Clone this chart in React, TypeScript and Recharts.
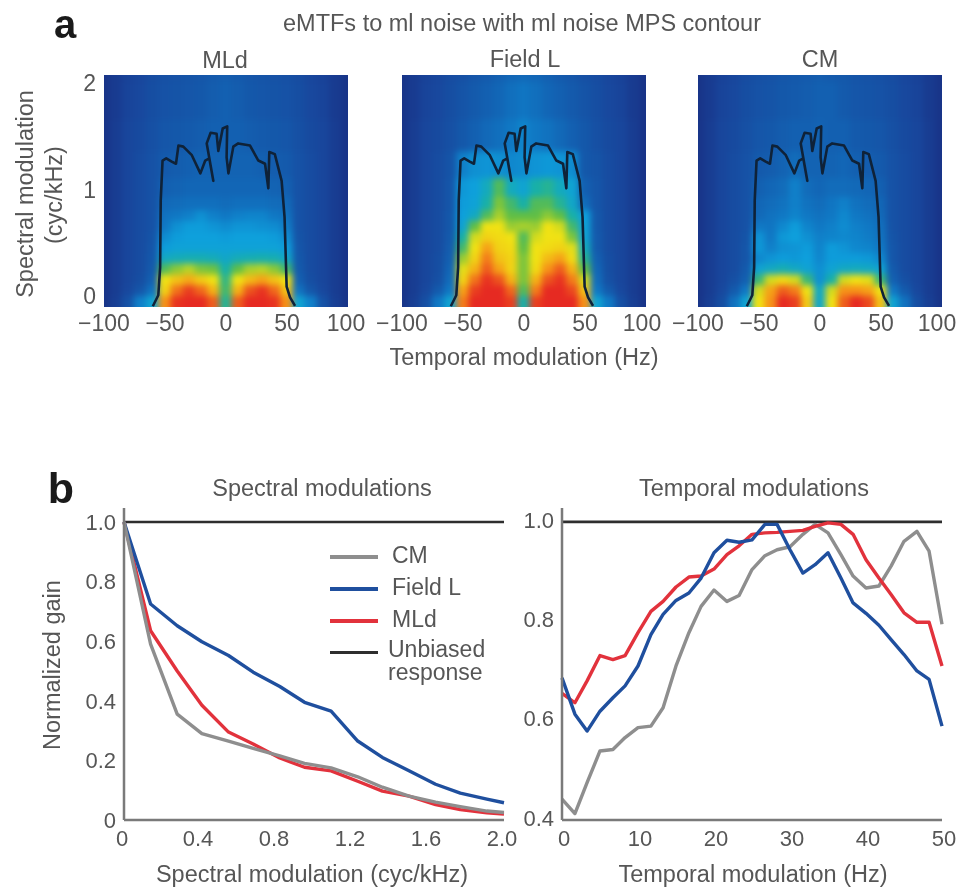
import React from 'react';
import { Legend, Line, LineChart, Scatter, ScatterChart, XAxis, YAxis } from 'recharts';

// panel a: colour levels (0 navy .. 9 red), one row per HEAT_Y
const HEAT_X = [-110, -100, -90, -80, -70, -60, -50, -40, -30, -20, -10, 0, 10, 20, 30, 40, 50, 60, 70, 80, 90, 100, 110];
const HEAT_Y = [2.2, 1.8, 1.5, 1.2, 1.0, 0.85, 0.75, 0.65, 0.55, 0.45, 0.35, 0.25, 0.15, 0.05, -0.05, -0.15];

const MLD_LEVELS = [
  [0, 0, .4, .8, 1, 1.3, 1.5, 1.6, 1.7, 1.8, 2, 2.1, 2, 1.8, 1.7, 1.6, 1.5, 1.3, 1, .8, .4, 0, 0],
  [0, 0, .4, .9, 1.1, 1.4, 1.6, 1.7, 1.8, 1.9, 2.1, 2.2, 2.1, 1.9, 1.8, 1.7, 1.6, 1.4, 1.1, .9, .4, 0, 0],
  [0, 0, .5, 1, 1.2, 1.5, 1.8, 1.9, 2, 2.1, 2.2, 2.2, 2.2, 2.1, 2, 1.9, 1.8, 1.5, 1.2, 1, .5, 0, 0],
  [0, 0, .5, 1, 1.3, 1.6, 2, 2.1, 2.2, 2.3, 2.3, 2.3, 2.3, 2.3, 2.2, 2.1, 2, 1.6, 1.3, 1, .5, 0, 0],
  [0, 0, .5, 1, 1.3, 1.6, 2.2, 2.3, 2.4, 2.4, 2.4, 2.4, 2.4, 2.4, 2.4, 2.3, 2.2, 1.6, 1.3, 1, .5, 0, 0],
  [0, 0, .5, 1, 1.3, 1.6, 2.5, 2.6, 2.7, 2.7, 2.7, 2.6, 2.7, 2.7, 2.7, 2.6, 2.5, 1.6, 1.3, 1, .5, 0, 0],
  [0, 0, .5, 1, 1.3, 1.6, 2.8, 3, 3.2, 3.6, 3.2, 3, 3.2, 3.3, 3.3, 3, 2.8, 1.6, 1.3, 1, .5, 0, 0],
  [0, 0, .5, 1, 1.3, 1.6, 3, 3.6, 3.9, 3.9, 3.7, 3.5, 3.7, 3.7, 3.6, 3.5, 3.1, 1.6, 1.3, 1, .5, 0, 0],
  [0, 0, .5, 1, 1.3, 1.7, 3.5, 3.9, 4, 4, 4, 3.9, 4, 4, 4, 3.9, 3.5, 1.7, 1.3, 1, .5, 0, 0],
  [0, 0, .5, 1, 1.3, 1.8, 3.9, 4.1, 4.1, 4.1, 4.1, 4.1, 4.1, 4.1, 4.1, 4.1, 3.9, 1.8, 1.3, 1, .5, 0, 0],
  [0, 0, .5, 1, 1.3, 1.9, 4.5, 4.7, 4.8, 4.8, 4.7, 4.4, 4.7, 4.8, 4.9, 4.8, 4.4, 1.9, 1.3, 1, .5, 0, 0],
  [0, 0, .5, 1, 1.3, 2, 5.8, 6.3, 6.6, 6.2, 6.1, 5, 6, 6.5, 6.6, 6.3, 5.6, 2, 1.3, 1, .5, 0, 0],
  [0, 0, .5, 1, 1.4, 2.2, 7, 7.4, 7.7, 7.3, 7, 5.4, 7, 7.5, 7.8, 7.4, 7, 2.2, 1.4, 1, .5, 0, 0],
  [0, 0, .5, 1.1, 1.8, 2.8, 7.2, 8.3, 8.8, 8.4, 7.6, 5.6, 7.6, 8.6, 8.9, 8.4, 7.4, 2.8, 1.8, 1.1, .5, 0, 0],
  [0, 0, .6, 1.6, 3.2, 4.2, 8, 8.9, 9, 9, 8.5, 5.2, 8.5, 9, 9, 8.9, 8, 4.2, 3.2, 1.6, .6, 0, 0],
  [0, 0, .6, 1.6, 3.2, 4.2, 8, 8.9, 9, 9, 8.5, 5.2, 8.5, 9, 9, 8.9, 8, 4.2, 3.2, 1.6, .6, 0, 0],
];

const FIELD_L_LEVELS = [
  [0, 0, .4, .8, 1, 1.3, 1.5, 1.8, 2, 2.2, 2.4, 2.5, 2.4, 2.2, 2, 1.8, 1.5, 1.3, 1, .8, .4, 0, 0],
  [0, 0, .4, .9, 1.1, 1.4, 1.7, 2, 2.2, 2.4, 2.7, 2.9, 2.7, 2.4, 2.2, 2, 1.7, 1.4, 1.1, .9, .4, 0, 0],
  [0, 0, .5, 1, 1.2, 1.5, 1.9, 2.2, 2.5, 2.7, 3, 3.3, 3, 2.8, 2.5, 2.2, 1.9, 1.5, 1.2, 1, .5, 0, 0],
  [0, 0, .5, 1, 1.3, 1.7, 3.2, 3.6, 3.7, 3.6, 3.4, 3.5, 3.7, 3.8, 3.7, 3.5, 1.9, 1.7, 1.3, 1, .5, 0, 0],
  [0, 0, .5, 1, 1.3, 1.8, 3.8, 4, 4.6, 5.8, 4.6, 4.2, 5, 5.2, 4.6, 4.2, 2.2, 1.8, 1.3, 1, .5, 0, 0],
  [0, 0, .5, 1, 1.3, 1.8, 3.9, 4.1, 5, 6.2, 5.6, 5, 5.8, 5.8, 5.2, 4.4, 2.6, 1.8, 1.3, 1, .5, 0, 0],
  [0, 0, .5, 1, 1.3, 1.9, 4, 4.5, 5.8, 6.5, 6, 6, 6, 6.3, 6, 5, 4, 1.9, 1.3, 1, .5, 0, 0],
  [0, 0, .5, 1, 1.3, 1.9, 4.2, 6, 7, 7, 6.4, 6.5, 6.4, 7, 6.8, 5.6, 4.1, 1.9, 1.3, 1, .5, 0, 0],
  [0, 0, .5, 1, 1.3, 2, 5, 6.8, 7.2, 7.1, 7, 5.8, 6.8, 7, 7, 6.2, 4.2, 2, 1.3, 1, .5, 0, 0],
  [0, 0, .5, 1, 1.3, 2.1, 5.6, 7, 7.8, 7.2, 7.1, 6, 7, 7.1, 7.2, 6.9, 4.6, 2, 1.3, 1, .5, 0, 0],
  [0, 0, .5, 1, 1.4, 2.2, 6.4, 7.2, 8.2, 7.4, 7.2, 6.2, 7, 7.5, 7.8, 7.1, 5.2, 2.2, 1.4, 1, .5, 0, 0],
  [0, 0, .5, 1, 1.4, 2.4, 6.9, 7.6, 8.5, 7.8, 7.2, 6.2, 7.1, 8, 8.5, 7.6, 6, 2.4, 1.4, 1, .5, 0, 0],
  [0, 0, .5, 1, 1.5, 2.6, 7.2, 8.3, 8.9, 8.6, 7.6, 6.2, 7.6, 8.6, 8.9, 8.2, 6.8, 2.6, 1.5, 1, .5, 0, 0],
  [0, 0, .5, 1.1, 2, 3, 7.8, 8.8, 9, 9, 8.4, 5.8, 8.2, 9, 9, 8.7, 7.4, 3, 2, 1.1, .5, 0, 0],
  [0, 0, .6, 1.5, 3, 4.2, 8.2, 9, 9, 9, 8.8, 5, 8.8, 9, 9, 9, 8, 4.2, 3, 1.5, .6, 0, 0],
  [0, 0, .6, 1.5, 3, 4.2, 8.2, 9, 9, 9, 8.8, 5, 8.8, 9, 9, 9, 8, 4.2, 3, 1.5, .6, 0, 0],
];

const CM_LEVELS = [
  [0, 0, .4, .8, 1, 1.3, 1.5, 1.6, 1.8, 1.9, 2, 2.1, 2, 1.9, 1.7, 1.6, 1.5, 1.3, 1, .8, .4, 0, 0],
  [0, 0, .4, .9, 1.1, 1.4, 1.6, 1.7, 1.9, 2, 2.1, 2.2, 2.2, 2, 1.8, 1.7, 1.6, 1.4, 1.1, .9, .4, 0, 0],
  [0, 0, .5, 1, 1.2, 1.5, 1.8, 1.9, 2.1, 2.2, 2.2, 2.3, 2.2, 2.2, 2, 1.9, 1.8, 1.5, 1.2, 1, .5, 0, 0],
  [0, 0, .5, 1, 1.3, 1.6, 2, 2.1, 2.3, 2.6, 2.3, 2.3, 2.3, 2.4, 2.2, 2.1, 2, 1.6, 1.3, 1, .5, 0, 0],
  [0, 0, .5, 1, 1.3, 1.6, 2.2, 2.4, 2.6, 3.2, 2.6, 2.4, 2.6, 2.6, 2.5, 2.4, 2.2, 1.6, 1.3, 1, .5, 0, 0],
  [0, 0, .5, 1, 1.3, 1.6, 2.4, 2.6, 2.8, 3.2, 2.8, 2.6, 2.9, 3.2, 2.8, 2.6, 2.4, 1.6, 1.3, 1, .5, 0, 0],
  [0, 0, .5, 1, 1.3, 1.6, 2.5, 2.8, 3, 3.3, 3, 2.8, 3, 3.4, 3, 2.8, 2.5, 1.6, 1.3, 1, .5, 0, 0],
  [0, 0, .5, 1, 1.3, 1.6, 3, 2.9, 3.4, 3.9, 3.3, 3, 3.2, 3.5, 3.2, 3, 2.7, 1.6, 1.3, 1, .5, 0, 0],
  [0, 0, .5, 1, 1.3, 1.7, 3.7, 3, 3.8, 4, 3.6, 3.2, 3.3, 3.4, 3.3, 3.1, 2.8, 1.7, 1.3, 1, .5, 0, 0],
  [0, 0, .5, 1, 1.3, 1.8, 3.8, 3.2, 3.6, 3.7, 3.9, 3.3, 3.9, 3.7, 3.4, 3.3, 3, 1.8, 1.3, 1, .5, 0, 0],
  [0, 0, .5, 1, 1.3, 1.8, 3.4, 3.7, 3.9, 3.8, 4, 3.4, 3.9, 3.9, 3.9, 3.8, 3.4, 1.8, 1.3, 1, .5, 0, 0],
  [0, 0, .5, 1, 1.3, 2, 4.2, 4.5, 4.8, 4.5, 4.2, 3.6, 4.2, 4.5, 4.6, 4.5, 4.2, 2, 1.3, 1, .5, 0, 0],
  [0, 0, .5, 1, 1.5, 2.2, 5.5, 6.8, 7.1, 6.8, 5.5, 3.6, 5, 6.8, 7, 6.9, 5.5, 2.2, 1.5, 1, .5, 0, 0],
  [0, 0, .5, 1.1, 2, 3, 6.8, 7.8, 8.5, 8.2, 7, 4.5, 6.8, 8, 8, 7.8, 7, 3, 2, 1.1, .5, 0, 0],
  [0, 0, .6, 1.4, 2.8, 4.2, 7, 8, 9, 8.8, 7.3, 4.4, 7, 8.5, 9, 8.7, 7.4, 4.2, 2.8, 1.4, .6, 0, 0],
  [0, 0, .6, 1.4, 2.8, 4.2, 7, 8, 9, 8.8, 7.3, 4.4, 7, 8.5, 9, 8.7, 7.4, 4.2, 2.8, 1.4, .6, 0, 0],
];

// ml noise MPS contour, traced in reading order
const CONTOUR_X = [-60, -55.5, -54, -53.5, -52, -49, -44.5, -41, -39, -35, -28, -21, -17, -13.7, -10.4, -15.8, -12.6, -7.7, -6.3, -2.7, 1, .5, 2, 6, 10, 19.7, 26.5, 32, 34.7, 35.5, 40, 45.6, 48, 49.7, 52.5, 56.6];
const CONTOUR_Y = [-.093, .01, .27, .9, 1.27, 1.29, 1.26, 1.24, 1.41, 1.4, 1.32, 1.15, 1.27, 1.29, 1.08, 1.43, 1.53, 1.52, 1.36, 1.57, 1.59, 1.3, 1.15, 1.4, 1.43, 1.41, 1.27, 1.24, 1.01, 1.35, 1.33, 1.08, .74, .09, -.01, -.09];

const HEAT_TICKS_X = [-100, -50, 0, 50, 100];
const HEAT_TICKS_Y = [0, 1, 2];

// panel b, spectral
const SPECTRAL_X = [0, .14, .28, .41, .55, .68, .82, .95, 1.09, 1.23, 1.36, 1.5, 1.64, 1.77, 1.91, 2];
const SPECTRAL_CM = [1, .59, .355, .29, .265, .24, .215, .19, .175, .145, .11, .08, .06, .045, .03, .025];
const SPECTRAL_FIELD_L = [1, .725, .652, .598, .552, .496, .448, .395, .365, .265, .21, .165, .12, .09, .07, .058];
const SPECTRAL_MLD = [1, .635, .5, .385, .295, .255, .208, .177, .165, .13, .097, .08, .052, .035, .024, .02];
const SPECTRAL_TICKS_X = [0, .4, .8, 1.2, 1.6, 2];
const SPECTRAL_TICKS_Y = [0, .2, .4, .6, .8, 1];

// panel b, temporal
const TEMPORAL_X = [0, 1.7, 3.3, 5, 6.7, 8.3, 10, 11.7, 13.3, 15, 16.7, 18.3, 20, 21.7, 23.3, 25, 26.7, 28.3, 30, 31.7, 33.3, 35, 36.7, 38.3, 40, 41.7, 43.3, 45, 46.7, 48.3, 50];
const TEMPORAL_CM = [.442, .413, .475, .539, .542, .566, .586, .589, .626, .71, .777, .83, .863, .84, .852, .904, .932, .944, .95, .975, .995, .978, .934, .891, .867, .871, .911, .961, .981, .941, .794];
const TEMPORAL_FIELD_L = [.686, .613, .579, .619, .646, .67, .71, .773, .814, .842, .857, .887, .938, .963, .959, .964, .995, .995, .944, .897, .914, .938, .887, .837, .816, .792, .763, .733, .7, .683, .589];
const TEMPORAL_MLD = [.655, .636, .68, .731, .723, .731, .777, .82, .84, .869, .889, .891, .905, .934, .952, .975, .978, .979, .981, .983, .991, .998, .995, .975, .924, .887, .854, .817, .798, .798, .71];
const TEMPORAL_TICKS_X = [0, 10, 20, 30, 40, 50];
const TEMPORAL_TICKS_Y = [.4, .6, .8, 1];
const UNBIASED = 1;

const FONT = '"Liberation Sans", Arial, sans-serif';
const TEXT = '#565656';
const AXIS = '#7a7a7a';
const GREY = '#8e8e8e';
const BLUE = '#1f4f9e';
const RED = '#e2323c';
const BLACK = '#2e2e2e';

const LEVEL_COLORS = [
  [24, 52, 136], [24, 70, 156], [20, 90, 172], [16, 120, 196], [14, 160, 220],
  [24, 176, 168], [96, 190, 70], [240, 226, 20], [246, 146, 24], [230, 42, 34],
];

function levelColor(level: number) {
  const lo = Math.min(Math.floor(level), 8);
  const t = level - lo;
  const c = LEVEL_COLORS[lo].map((v, i) => Math.round(v + (LEVEL_COLORS[lo + 1][i] - v) * t));
  return `rgb(${c[0]},${c[1]},${c[2]})`;
}

const PLOT_W = 244;
const PLOT_H = 232;
const Y_DOMAIN = [-0.1, 2.07];
const PX_X = PLOT_W / 200;
const PX_Y = PLOT_H / (Y_DOMAIN[1] - Y_DOMAIN[0]);

// row edges are halfway to the neighbouring rows
function rowEdges(i: number) {
  const y = HEAT_Y[i];
  const up = i === 0 ? y + 0.3 : (HEAT_Y[i - 1] + y) / 2;
  const down = i === HEAT_Y.length - 1 ? y - 0.1 : (HEAT_Y[i + 1] + y) / 2;
  return { up: up - y, down: y - down };
}

function HeatCell(props: any) {
  const { cx, cy, payload } = props;
  const { up, down } = rowEdges(payload.row);
  return (
    <rect
      x={cx - 5.5 * PX_X}
      y={cy - up * PX_Y - 0.5}
      width={11 * PX_X}
      height={(up + down) * PX_Y + 1}
      fill={levelColor(payload.level)}
    />
  );
}

const contourTable = CONTOUR_X.map((x, i) => ({ x, y: CONTOUR_Y[i] }));

// the end labels sit a little inside the image edge in the original
function heatTick(nudge: number) {
  return (p: any) => (
    <text
      x={p.x + (p.payload.value === 100 ? nudge : 0)}
      y={p.y + 16}
      textAnchor="middle"
      fontSize={23}
      fontFamily={FONT}
      fill={TEXT}
    >
      {String(p.payload.value).replace('-', '\u2212')}
    </text>
  );
}

function HeatPanel({ left, top, levels, showY, nudge }: { left: number; top: number; levels: number[][]; showY?: boolean; nudge: number }) {
  const cells = levels.flatMap((row, r) => row.map((level, c) => ({ x: HEAT_X[c], y: HEAT_Y[r], level, row: r })));
  return (
    <div style={{ position: 'absolute', left: left - 60, top: top - 10 }}>
      <ScatterChart
        width={PLOT_W + 100}
        height={PLOT_H + 50}
        margin={{ left: showY ? 0 : 60, right: 40, top: 10, bottom: 0 }}
      >
        <XAxis
          type="number"
          dataKey="x"
          domain={[-100, 100]}
          allowDataOverflow
          ticks={HEAT_TICKS_X}
          interval={0}
          axisLine={false}
          tickLine={false}
          height={40}
          tick={heatTick(nudge)}
        />
        <YAxis
          type="number"
          dataKey="y"
          domain={Y_DOMAIN}
          allowDataOverflow
          ticks={HEAT_TICKS_Y}
          interval={0}
          hide={!showY}
          axisLine={false}
          tickLine={false}
          width={60}
          tickMargin={2}
          tick={{ fontSize: 23, fill: TEXT, fontFamily: FONT }}
        />
        <Scatter className="heat-cells" data={cells} shape={HeatCell} isAnimationActive={false} />
        <Scatter
          data={contourTable}
          line={{ stroke: '#0f2238', strokeWidth: 2.6, strokeLinejoin: 'round' }}
          shape={() => <g />}
          isAnimationActive={false}
        />
      </ScatterChart>
    </div>
  );
}

function gainLegend(props: any) {
  return (
    <div style={{ fontFamily: FONT, fontSize: 23, color: TEXT }}>
      {props.payload.map((entry: any) => (
        <div key={entry.value} style={{ display: 'flex', alignItems: 'flex-start', height: 32 }}>
          <span
            style={{
              width: 48,
              height: entry.color === BLACK ? 2.5 : 3.5,
              marginTop: 14,
              marginRight: entry.color === BLACK ? 10 : 14,
              background: entry.color,
              flex: 'none',
            }}
          />
          <span style={{ lineHeight: '23px', marginTop: entry.color === BLACK ? 1 : 3 }}>{entry.value}</span>
        </div>
      ))}
    </div>
  );
}

const spectralTable = SPECTRAL_X.map((x, i) => ({
  x,
  CM: SPECTRAL_CM[i],
  'Field L': SPECTRAL_FIELD_L[i],
  MLd: SPECTRAL_MLD[i],
  'Unbiased response': UNBIASED,
}));

const temporalTable = TEMPORAL_X.map((x, i) => ({
  x,
  CM: TEMPORAL_CM[i],
  'Field L': TEMPORAL_FIELD_L[i],
  MLd: TEMPORAL_MLD[i],
  'Unbiased response': UNBIASED,
}));

const gainTick = { fontSize: 22, fill: TEXT, fontFamily: FONT };
const axisStroke = { stroke: AXIS, strokeWidth: 2.5 };
const lineStyle = { dot: false, isAnimationActive: false, strokeWidth: 3.4, strokeLinejoin: 'round' as const };

function Caption({ x, y, size = 23.5, angle = 0, bold, children }: { x: number; y: number; size?: number; angle?: number; bold?: boolean; children: React.ReactNode }) {
  return (
    <div
      style={{
        position: 'absolute',
        left: x,
        top: y,
        transform: `translate(-50%, -50%) rotate(${angle}deg)`,
        fontFamily: FONT,
        fontSize: size,
        lineHeight: 1,
        fontWeight: bold ? 700 : 400,
        color: bold ? '#1a1a1a' : TEXT,
        whiteSpace: 'nowrap',
      }}
    >
      {children}
    </div>
  );
}

export default function App() {
  return (
    <div style={{ position: 'absolute', left: 0, top: 0, width: 958, height: 889, background: '#fff', overflow: 'hidden', filter: 'blur(0.5px)' }}>
      <style>{'.heat-cells { filter: blur(3.2px); }'}</style>

      <Caption x={65} y={24} size={40} bold>a</Caption>
      <Caption x={522} y={24}>eMTFs to ml noise with ml noise MPS contour</Caption>
      <Caption x={225} y={61}>MLd</Caption>
      <Caption x={525} y={60}>Field L</Caption>
      <Caption x={820} y={60}>CM</Caption>
      <Caption x={26} y={194} angle={-90}>Spectral modulation</Caption>
      <Caption x={55} y={195} angle={-90}>(cyc/kHz)</Caption>
      <Caption x={524} y={358}>Temporal modulation (Hz)</Caption>

      <HeatPanel left={104} top={75} levels={MLD_LEVELS} showY nudge={-2} />
      <HeatPanel left={402} top={75} levels={FIELD_L_LEVELS} nudge={-4} />
      <HeatPanel left={698} top={75} levels={CM_LEVELS} nudge={-5} />

      <Caption x={61} y={488} size={43} bold>b</Caption>
      <Caption x={322} y={489}>Spectral modulations</Caption>
      <Caption x={754} y={489}>Temporal modulations</Caption>
      <Caption x={53} y={665} angle={-90}>Normalized gain</Caption>
      <Caption x={312} y={875}>Spectral modulation (cyc/kHz)</Caption>
      <Caption x={753} y={875}>Temporal modulation (Hz)</Caption>

      <div style={{ position: 'absolute', left: 64, top: 498 }}>
        <LineChart width={480} height={372} data={spectralTable} margin={{ left: 0, right: 40, top: 10, bottom: 0 }}>
          <XAxis
            type="number"
            dataKey="x"
            domain={[0, 2]}
            ticks={SPECTRAL_TICKS_X}
            interval={0}
            tickFormatter={(v: number) => (v === 0 ? '0' : v.toFixed(1))}
            axisLine={axisStroke}
            tickLine={false}
            height={50}
            tickMargin={4}
            tick={{ ...gainTick, dx: -2 }}
          />
          <YAxis
            type="number"
            domain={[0, 1.047]}
            ticks={SPECTRAL_TICKS_Y}
            interval={0}
            tickFormatter={(v: number) => (v === 0 ? '0' : v.toFixed(1))}
            axisLine={axisStroke}
            tickLine={false}
            width={60}
            tickMargin={2}
            tick={gainTick}
          />
          <Legend
            layout="vertical"
            align="center"
            verticalAlign="middle"
            content={gainLegend}
            wrapperStyle={{ left: 266, top: 43, width: 170 }}
          />
          <Line dataKey="Unbiased response" stroke={BLACK} {...lineStyle} strokeWidth={2.6} />
          <Line dataKey="MLd" stroke={RED} {...lineStyle} />
          <Line dataKey="Field L" stroke={BLUE} {...lineStyle} />
          <Line dataKey="CM" stroke={GREY} {...lineStyle} />
        </LineChart>
      </div>

      <div style={{ position: 'absolute', left: 502, top: 498 }}>
        <LineChart width={456} height={372} data={temporalTable} margin={{ left: 0, right: 16, top: 10, bottom: 0 }}>
          <XAxis
            type="number"
            dataKey="x"
            domain={[0, 50]}
            ticks={TEMPORAL_TICKS_X}
            interval={0}
            axisLine={axisStroke}
            tickLine={false}
            height={50}
            tickMargin={4}
            tick={{ ...gainTick, dx: 2 }}
          />
          <YAxis
            type="number"
            domain={[0.4, 1.028]}
            ticks={TEMPORAL_TICKS_Y}
            interval={0}
            tickFormatter={(v: number) => v.toFixed(1)}
            axisLine={axisStroke}
            tickLine={false}
            width={60}
            tickMargin={2}
            tick={{ ...gainTick, dy: -2 }}
          />
          <Line dataKey="Unbiased response" stroke={BLACK} {...lineStyle} strokeWidth={2.6} />
          <Line dataKey="CM" stroke={GREY} {...lineStyle} />
          <Line dataKey="MLd" stroke={RED} {...lineStyle} />
          <Line dataKey="Field L" stroke={BLUE} {...lineStyle} />
        </LineChart>
      </div>
    </div>
  );
}
